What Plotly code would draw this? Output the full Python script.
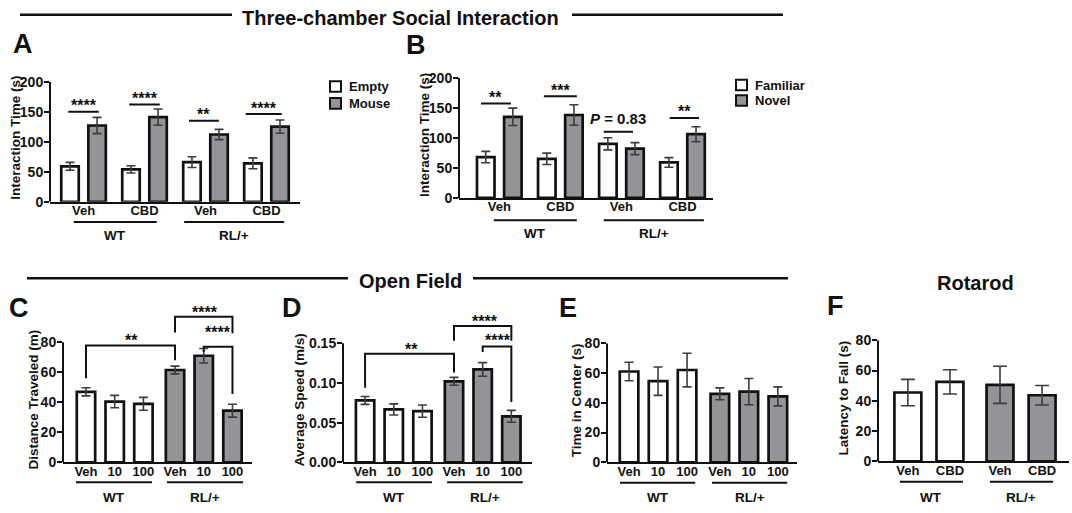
import plotly.graph_objects as go

W, H = 1072, 513
def fx(p): return p / W
def fy(p): return 1 - p / H

FONT = "Liberation Sans"
INK = "#111111"
GREY = "#939398"
WHITE = "#ffffff"
ERRC = "#3c3c3c"

# ---------------- data ----------------
# A  three-chamber sociability
a_ticks = ["Veh", "CBD", "Veh", "CBD"]
a_empty = [59, 54, 66, 64]
a_empty_err = [6.5, 6, 9, 9]
a_mouse = [127, 141, 112, 125]
a_mouse_err = [13.5, 13.5, 8.5, 11]
a_sig_text = ["****", "****", "**", "****"]
a_sig_y = [150, 162, 135, 146]

# B  social novelty
b_ticks = ["Veh", "CBD", "Veh", "CBD"]
b_familiar = [68, 65, 90, 59]
b_familiar_err = [9.5, 9.5, 10, 8]
b_novel = [135, 138, 82, 106]
b_novel_err = [14.5, 17, 10, 12.5]
b_sig_text = ["**", "***", "<i>P</i> = 0.83", "**"]
b_sig_y = [157, 169, 110, 133]

# C  distance travelled
dose_ticks = ["Veh", "10", "100", "Veh", "10", "100"]
c_wt = [47, 40.5, 39]
c_wt_err = [2.7, 4.1, 4.3]
c_rl = [61.5, 71, 34.4]
c_rl_err = [2.6, 4.8, 4.3]
c_br_text = ["**", "****", "****"]
c_br_y = [77.8, 97, 77]
c_br_yl = [56, 86.5, 73.5]
c_br_yr = [68, 86, 45.6]
c_br_ty = [83.2, 101.5, 88.6]

# D  average speed
d_wt = [0.078, 0.0667, 0.0645]
d_wt_err = [0.005, 0.007, 0.0077]
d_rl = [0.102, 0.117, 0.058]
d_rl_err = [0.005, 0.0085, 0.0075]
d_br_text = ["**", "****", "****"]
d_br_y = [0.1366, 0.1716, 0.146]
d_br_yl = [0.094, 0.153, 0.139]
d_br_yr = [0.113, 0.153, 0.076]
d_br_ty = [0.1455, 0.1817, 0.157]

# E  time in centre
e_wt = [61, 54.5, 62]
e_wt_err = [6.2, 9.5, 11.3]
e_rl = [46, 47.5, 44.3]
e_rl_err = [4, 8.8, 6.4]

# F  rotarod
f_ticks = ["Veh", "CBD", "Veh", "CBD"]
f_wt = [45.5, 52.5]
f_wt_err = [8.7, 8]
f_rl = [50.6, 43.7]
f_rl_err = [12.3, 6.4]

group_labels = ["WT", "RL/+"]

# ---------------- layout helpers ----------------
fig = go.Figure()
shapes, annos = [], []
layout = {}

def tf(size):
    return dict(family=FONT, size=size, color=INK, weight="bold")

def line(x0, y0, x1, y1, xref="paper", yref="paper", w=2):
    shapes.append(dict(type="line", x0=x0, x1=x1, y0=y0, y1=y1, xref=xref, yref=yref,
                       line=dict(color=INK, width=w)))

def text(x, y, s, size, xref="paper", yref="paper", xanchor="center", yanchor="middle",
         angle=0, yshift=0):
    annos.append(dict(x=x, y=y, xref=xref, yref=yref, text=s, showarrow=False,
                      xanchor=xanchor, yanchor=yanchor, textangle=angle, yshift=yshift,
                      font=tf(size)))

def panel(n, xpx, ybot, ytop_px, ytop_val, yrange_top, xrange, xtickvals, xticktext,
          ytickvals, ytickfmt=None):
    sfx = "" if n == 1 else str(n)
    scale = (ybot - ytop_px) / ytop_val
    top_px = ybot - yrange_top * scale
    layout["xaxis" + sfx] = dict(domain=[fx(xpx[0]), fx(xpx[1])], range=xrange, anchor="y" + sfx,
                                 showline=True, linewidth=2, linecolor=INK, ticks="",
                                 tickvals=xtickvals, ticktext=xticktext, tickfont=tf(13),
                                 ticklabelstandoff=-4,
                                 showgrid=False, zeroline=False, fixedrange=True)
    ya = dict(domain=[fy(ybot), fy(top_px)], range=[0, yrange_top], anchor="x" + sfx,
              showline=False, ticks="outside", ticklen=5, tickwidth=2, tickcolor=INK,
              tickvals=ytickvals, tickfont=tf(14), ticklabelstandoff=-2,
              showgrid=False, zeroline=False, fixedrange=True)
    if ytickfmt:
        ya["tickformat"] = ytickfmt
    layout["yaxis" + sfx] = ya
    # y axis line up to the top tick only
    shapes.append(dict(type="line", xref="x" + sfx + " domain", yref="y" + sfx,
                       x0=0, x1=0, xsizemode="pixel", xanchor=0, y0=0, y1=ytop_val,
                       line=dict(color=INK, width=2)))
    return "x" + sfx, "y" + sfx

def bars(xa, ya, x, y, err, color, width, cap):
    fig.add_trace(go.Bar(x=x, y=y, width=width, xaxis=xa, yaxis=ya,
                         marker=dict(color=color, line=dict(color=INK, width=2.7)),
                         error_y=dict(type="data", array=err, color=ERRC, thickness=1.6, width=cap),
                         showlegend=False, hoverinfo="skip"))

def groups(xa, spans, y_line_px, y_text_px):
    for (x0, x1), lab in zip(spans, group_labels):
        line(x0, fy(y_line_px), x1, fy(y_line_px), xref=xa, w=2)
        text((x0 + x1) / 2, fy(y_text_px), lab, 13.5, xref=xa)

# ---------------- headers ----------------
text(fx(400), fy(10), "Three-chamber Social Interaction", 20)
line(fx(20), fy(7), fx(232), fy(7), w=2.5)
line(fx(572), fy(7), fx(783), fy(7), w=2.5)
text(fx(410), fy(282), "Open Field", 20)
line(fx(27), fy(279), fx(348), fy(279), w=2.5)
line(fx(473), fy(279), fx(788), fy(279), w=2.5)
text(fx(975), fy(284), "Rotarod", 20)
for lab, (lx, ly) in zip("ABCDEF", [(23, 37), (416, 38), (19, 310), (292, 310), (568, 310), (835, 308)]):
    text(fx(lx), fy(ly), lab, 27)

# ---------------- panel A ----------------
g4 = [0, 1, 2, 3]
off, bw = 0.222, 0.287
xa, ya = panel(1, (50, 300), 200, 76, 200, 200, [-0.55, 3.55], g4, a_ticks, [0, 50, 100, 150, 200])
bars(xa, ya, [g - off for g in g4], a_empty, a_empty_err, WHITE, bw, 4.5)
bars(xa, ya, [g + off for g in g4], a_mouse, a_mouse_err, GREY, bw, 4.5)
a_sig_x = [(-0.25, 0.25), (0.75, 1.25), (1.73, 2.22), (2.66, 3.25)]
for (x0, x1), yv, s in zip(a_sig_x, a_sig_y, a_sig_text):
    line(x0, yv, x1, yv, xref=xa, yref=ya, w=2)
    text((x0 + x1) / 2, yv, s, 16, xref=xa, yref=ya, yshift=6)
groups(xa, [(-0.16, 1.2), (1.65, 3.29)], 221, 235)
text(fx(16), fy(134), "Interaction Time (s)", 13.5, angle=-90)

# ---------------- panel B ----------------
xb, yb = panel(2, (459, 713), 196, 72, 200, 200, [-0.66, 3.5], g4, b_ticks, [0, 50, 100, 150, 200])
bars(xb, yb, [g - off for g in g4], b_familiar, b_familiar_err, WHITE, bw, 4.5)
bars(xb, yb, [g + off for g in g4], b_novel, b_novel_err, GREY, bw, 4.5)
b_sig_x = [(-0.3, 0.19), (0.73, 1.27), (1.71, 2.19), (2.79, 3.27)]
for (x0, x1), yv, s in zip(b_sig_x, b_sig_y, b_sig_text):
    line(x0, yv, x1, yv, xref=xb, yref=yb, w=2)
    if s.startswith("<i>"):
        text((x0 + x1) / 2, yv, s, 15, xref=xb, yref=yb, yshift=13)
    else:
        text((x0 + x1) / 2, yv, s, 16, xref=xb, yref=yb, yshift=6)
groups(xb, [(-0.09, 1.27), (1.71, 3.35)], 219, 233)
text(fx(425), fy(131), "Interaction Time (s)", 13.5, angle=-90)

# legends
for (bx, ys, labs) in [(330, (81, 98.5), ("Empty", "Mouse")), (736, (79.5, 95.5), ("Familiar", "Novel"))]:
    for yc, lab, col in zip(ys, labs, (WHITE, GREY)):
        shapes.append(dict(type="rect", xref="paper", yref="paper", x0=fx(bx), x1=fx(bx + 11),
                           y0=fy(yc - 5.5), y1=fy(yc + 5.5), fillcolor=col,
                           line=dict(color=INK, width=2)))
        text(fx(bx + 17), fy(yc), lab, 13, xanchor="left")

# ---------------- panels C, D, E ----------------
pos6 = [0, 1, 2, 3.1, 4.1, 5.1]
bw6 = 0.64
br_pairs = [(0, 3), (3, 5), (4, 5)]

def brackets(xa, ya, ys, yls, yrs, tys, txts, txs):
    for (i, j), yv, yl, yr, ty, s, tx in zip(br_pairs, ys, yls, yrs, tys, txts, txs):
        x0, x1 = pos6[i], pos6[j]
        shapes.append(dict(type="path", xref=xa, yref=ya,
                           path=f"M {x0},{yl} L {x0},{yv} L {x1},{yv} L {x1},{yr}",
                           line=dict(color=INK, width=2)))
        text(tx, ty, s, 16, xref=xa, yref=ya, yshift=-3)

xc, yc = panel(3, (63, 252), 469, 345, 80, 110, [-0.8, 5.78], pos6, dose_ticks, [0, 20, 40, 60, 80])
bars(xc, yc, pos6[:3], c_wt, c_wt_err, WHITE, bw6, 4.5)
bars(xc, yc, pos6[3:], c_rl, c_rl_err, GREY, bw6, 4.5)
brackets(xc, yc, c_br_y, c_br_yl, c_br_yr, c_br_ty, c_br_text, [1.59, 4.15, 4.61])
groups(xc, [(-0.35, 2.3), (2.82, 5.47)], 489.5, 505)
text(fx(33), fy(404), "Distance Traveled (m)", 13.5, angle=-90)

xd, yd = panel(4, (343, 532), 469, 346, 0.15, 0.2, [-0.77, 5.82], pos6, dose_ticks,
               [0, 0.05, 0.10, 0.15], ytickfmt=".2f")
bars(xd, yd, pos6[:3], d_wt, d_wt_err, WHITE, bw6, 4.5)
bars(xd, yd, pos6[3:], d_rl, d_rl_err, GREY, bw6, 4.5)
brackets(xd, yd, d_br_y, d_br_yl, d_br_yr, d_br_ty, d_br_text, [1.63, 4.18, 4.63])
groups(xd, [(-0.31, 2.33), (2.86, 5.5)], 489.5, 505)
text(fx(299), fy(405), "Average Speed (m/s)", 13.5, angle=-90)

pos6e = [0, 1, 2, 3.13, 4.13, 5.13]
xe, ye = panel(5, (607, 797), 469, 346, 80, 80, [-0.76, 5.79], pos6e, dose_ticks, [0, 20, 40, 60, 80])
bars(xe, ye, pos6e[:3], e_wt, e_wt_err, WHITE, bw6, 4.5)
bars(xe, ye, pos6e[3:], e_rl, e_rl_err, GREY, bw6, 4.5)
groups(xe, [(-0.31, 2.28), (2.86, 5.45)], 490, 505)
text(fx(576), fy(405), "Time in Center (s)", 13.5, angle=-90)

# ---------------- panel F ----------------
pos4f = [0, 1, 2.19, 3.19]
xf, yf = panel(6, (878, 1069), 468, 343, 80, 80, [-0.71, 3.83], pos4f, f_ticks, [0, 20, 40, 60, 80])
bars(xf, yf, pos4f[:2], f_wt, f_wt_err, WHITE, 0.64, 7)
bars(xf, yf, pos4f[2:], f_rl, f_rl_err, GREY, 0.64, 7)
groups(xf, [(-0.19, 1.31), (1.95, 3.45)], 489, 505)
text(fx(843), fy(403), "Latency to Fall (s)", 13.5, angle=-90)

fig.update_layout(width=W, height=H, margin=dict(l=0, r=0, t=0, b=0), autosize=False,
                  paper_bgcolor="white", plot_bgcolor="white", barmode="overlay",
                  showlegend=False, shapes=shapes, annotations=annos,
                  font=dict(family=FONT, color=INK), **layout)
fig.write_html("out.html", config={"displayModeBar": False},
               post_script="document.body.style.margin='0px';document.body.style.overflow='hidden';")
